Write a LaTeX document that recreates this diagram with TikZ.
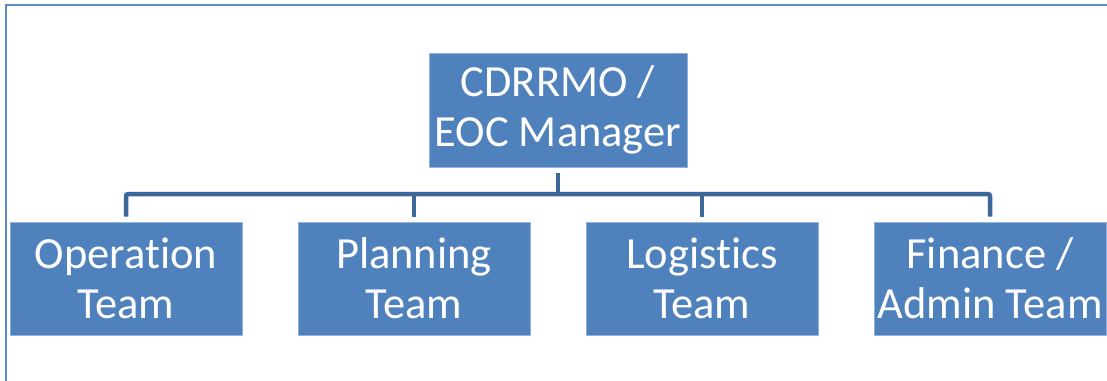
\documentclass[tikz,border=0pt]{standalone}
\usepackage{fontspec}
\setmainfont{Carlito}[Ligatures=NoCommon]
\definecolor{boxblue}{HTML}{4F81BD}
\definecolor{linkblue}{HTML}{3D6799}
\definecolor{frameblue}{HTML}{5B8AC9}
\begin{document}
\begin{tikzpicture}[x=1pt,y=-1pt,
  unitbox/.style={rectangle, fill=boxblue, draw=boxblue!60!white, line width=0.8pt,
    minimum width=232pt, minimum height=113pt, inner sep=0pt, align=center,
    text=white, font=\fontsize{44.5}{50}\selectfont},
  conn/.style={draw=linkblue, line width=4.5pt, rounded corners=2pt}]
\clip (0,0) rectangle (1107,380);
\fill[white] (0,0) rectangle (1107,380);
\draw[frameblue, line width=1.5pt] (6,5) rectangle (1130,400);
\node[unitbox, minimum width=258pt, minimum height=114pt] (top) at (558,110) {CDRRMO /\\EOC Manager};
\node[unitbox] (op) at (126,278.5) {Operation\\Team};
\node[unitbox] (plan) at (414,278.5) {Planning\\Team};
\node[unitbox] (log) at (702,278.5) {Logistics\\Team};
\node[unitbox] (fin) at (990,278.5) {Finance /\\Admin Team};
\draw[conn] ([yshift=5pt]op.north) -- ++(0,-22.5) -| ([yshift=5pt]fin.north);
\draw[conn] ([yshift=5pt]plan.north) -- ++(0,-22.5);
\draw[conn] ([yshift=5pt]log.north) -- ++(0,-22.5);
\draw[conn] ([yshift=-6pt]top.south) -- ++(0,21.5);
\end{tikzpicture}
\end{document}
